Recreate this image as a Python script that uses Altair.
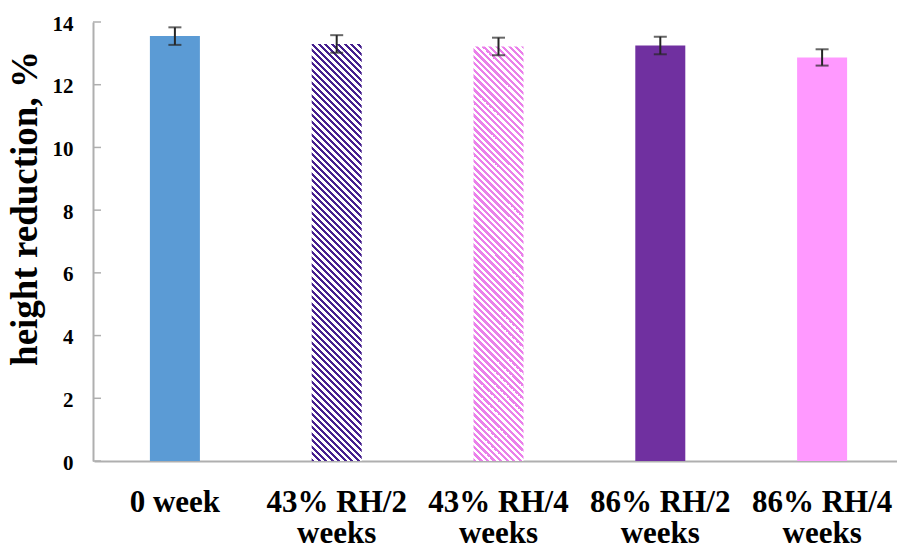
import altair as alt
import pandas as pd

# Samples, mean height reduction (%) and standard deviation
categories = ["0 week", "43% RH/2\nweeks", "43% RH/4\nweeks", "86% RH/2\nweeks", "86% RH/4\nweeks"]
means = [13.55, 13.30, 13.22, 13.25, 12.87]
errors = [0.28, 0.28, 0.28, 0.28, 0.26]

solid_colors = {"0 week": "#5B9BD5", "86% RH/2\nweeks": "#7030A0", "86% RH/4\nweeks": "#FF99FF"}
hatch_colors = {"43% RH/2\nweeks": "#46208E", "43% RH/4\nweeks": "#EA80EA"}

y_ticks = [0, 2, 4, 6, 8, 10, 12, 14]

PLOT_W, PLOT_H = 804, 439
Y_MAX = 14
BAR_W = 50
AXIS_GREY = "#AFAFAF"
FONT = "Liberation Serif"

df = pd.DataFrame({"category": categories, "mean": means, "err": errors})
df["lo"] = df["mean"] - df["err"]
df["hi"] = df["mean"] + df["err"]


def hatch_fill(color, bar_h, bar_w=BAR_W, period=6.5, bg="#FFFFFF"):
    """Diagonal stripes as a hard-stop linear gradient (bounding-box units)."""
    c = (bar_w + bar_h) / (bar_w ** 2 + bar_h ** 2)
    span = bar_w + bar_h
    stops = []
    q = 0.0
    while q < span:
        a = q / span
        b = min((q + period / 2) / span, 1.0)
        d = min((q + period) / span, 1.0)
        stops += [
            alt.GradientStop(offset=a, color=color),
            alt.GradientStop(offset=b, color=color),
            alt.GradientStop(offset=b, color=bg),
            alt.GradientStop(offset=d, color=bg),
        ]
        q += period
    return alt.LinearGradient(
        gradient="linear", stops=stops,
        x1=0, y1=1, x2=c * bar_w, y2=1 - c * bar_h,
    )


x_enc = alt.X(
    "category:N",
    sort=categories,
    scale=alt.Scale(domain=categories, range=[1, 810], paddingInner=0, paddingOuter=0),
    axis=alt.Axis(
        title=None,
        labelAngle=0,
        ticks=False,
        tickSize=0,
        labelPadding=26,
        labelExpr="split(datum.value, '\\n')",
        labelLineHeight=31,
        labelFont=FONT,
        labelFontSize=31,
        labelFontWeight="bold",
        labelColor="#000000",
        labelLimit=400,
        labelOverlap=False,
        domainColor=AXIS_GREY,
        domainWidth=2,
    ),
)

y_enc = alt.Y(
    "mean:Q",
    scale=alt.Scale(domain=[0, Y_MAX], nice=False, zero=True),
    axis=alt.Axis(
        title="height reduction, %",
        values=y_ticks,
        grid=False,
        ticks=False,
        tickSize=0,
        labelPadding=20,
        labelOffset=2,
        labelFont=FONT,
        labelFontSize=21,
        labelFontWeight="bold",
        labelColor="#000000",
        titleFont=FONT,
        titleFontSize=37,
        titleFontWeight="bold",
        titleColor="#000000",
        titleX=-49,
        titleY=186,
        titleBaseline="bottom",
        domainColor=AXIS_GREY,
        domainWidth=2,
    ),
)

base = alt.Chart(df)

solid_bars = (
    base.transform_filter(alt.FieldOneOfPredicate(field="category", oneOf=list(solid_colors)))
    .mark_bar(size=BAR_W)
    .encode(
        x=x_enc,
        y=y_enc,
        color=alt.Color(
            "category:N",
            scale=alt.Scale(domain=list(solid_colors), range=list(solid_colors.values())),
            legend=None,
        ),
    )
)

hatched_layers = []
for cat, col in hatch_colors.items():
    value = means[categories.index(cat)]
    bar_h = value * PLOT_H / Y_MAX
    hatched_layers.append(
        base.transform_filter(alt.FieldEqualPredicate(field="category", equal=cat))
        .mark_bar(size=BAR_W, fill=hatch_fill(col, bar_h))
        .encode(x=x_enc, y=y_enc)
    )

err_stem = base.mark_rule(color="#262626", strokeWidth=2).encode(
    x=x_enc, y=alt.Y("lo:Q"), y2="hi:Q"
)
cap_lo = base.mark_tick(color="#262626", size=13, thickness=2).encode(x=x_enc, y=alt.Y("lo:Q"))
cap_hi = base.mark_tick(color="#262626", size=13, thickness=2).encode(x=x_enc, y=alt.Y("hi:Q"))

# Inward-pointing tick marks on the value axis
inner_ticks = (
    alt.Chart(pd.DataFrame({"v": y_ticks}))
    .mark_rule(color=AXIS_GREY, strokeWidth=1.5)
    .encode(y=alt.Y("v:Q"), x=alt.value(0), x2=alt.value(8))
)

chart = (
    alt.layer(solid_bars, *hatched_layers, inner_ticks, err_stem, cap_lo, cap_hi)
    .properties(
        width=PLOT_W,
        height=PLOT_H,
        autosize=alt.AutoSizeParams(type="none"),
        padding={"left": 93, "top": 22, "right": 0, "bottom": 85},
        background="#FFFFFF",
    )
    .configure_view(strokeWidth=0)
)

chart.save("out.html", embed_options={"renderer": "svg", "actions": False})
